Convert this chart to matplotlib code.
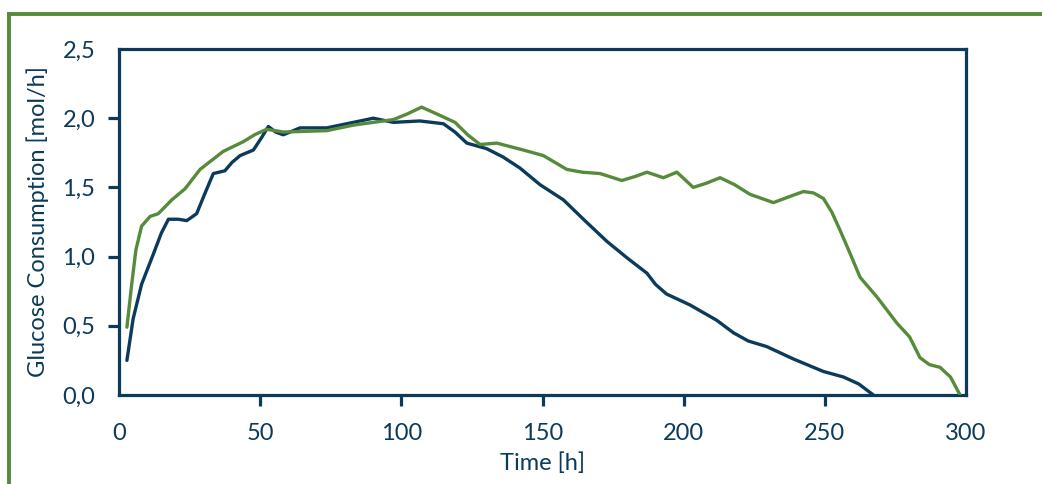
import numpy as np
import matplotlib
matplotlib.use("Agg")
import matplotlib.pyplot as plt
from matplotlib.lines import Line2D
from matplotlib.ticker import FuncFormatter

navy = "#0b3a5a"
green = "#558b3a"

# navy series
t_navy = [2.8, 5, 8, 12.2, 15, 17.5, 21, 24, 27.5, 30.5, 33.4, 37.5, 40, 42.9, 47.6, 50.5, 52.9, 55.5, 58.2,
          64.1, 73.6, 80.7, 90.1, 97.2, 106.6, 114.9, 119, 123.2, 130.2, 136, 142, 149.1, 157.4, 165,
          172.8, 180, 187, 190, 193.9, 202.3, 211.7, 217.6, 222.9, 229.4, 238.9, 249.5, 256.6, 262, 267.2]
y_navy = [0.25, 0.55, 0.80, 1.02, 1.17, 1.27, 1.27, 1.26, 1.31, 1.46, 1.60, 1.62, 1.68, 1.73, 1.77, 1.86,
          1.94, 1.90, 1.88, 1.93, 1.93, 1.96, 2.00, 1.97, 1.98, 1.96, 1.90, 1.82, 1.78, 1.72, 1.64,
          1.52, 1.41, 1.26, 1.11, 0.99, 0.88, 0.80, 0.73, 0.65, 0.54, 0.45, 0.39, 0.35, 0.26, 0.17,
          0.13, 0.08, 0.0]

# green series
t_green = [2.8, 4.5, 6, 8, 11, 13.9, 18.7, 23.4, 28.7, 36.9, 44, 48, 52.3, 58.2, 73.6, 83, 97.2, 102,
           107.2, 113.7, 119, 123.5, 127.9, 133.8, 143.2, 150.3, 158.6, 164, 170.4, 178.1, 183, 187,
           192.8, 197.6, 203.4, 208, 212.9, 218, 223.5, 231.8, 237, 242.4, 246, 249.5, 252.5, 255.4,
           259, 262.5, 268.4, 275.5, 280, 283.7, 287, 290.8, 294.5, 297.9]
y_green = [0.49, 0.80, 1.05, 1.22, 1.29, 1.31, 1.41, 1.49, 1.63, 1.76, 1.83, 1.88, 1.92, 1.90, 1.91, 1.95,
           1.99, 2.03, 2.08, 2.02, 1.97, 1.88, 1.81, 1.82, 1.77, 1.73, 1.63, 1.61, 1.60, 1.55, 1.58,
           1.61, 1.57, 1.61, 1.50, 1.53, 1.57, 1.52, 1.45, 1.39, 1.43, 1.47, 1.46, 1.42, 1.32, 1.19,
           1.02, 0.85, 0.71, 0.52, 0.42, 0.27, 0.22, 0.20, 0.13, 0.0]

x_ticks = [0, 50, 100, 150, 200, 250, 300]
y_ticks = [0.0, 0.5, 1.0, 1.5, 2.0, 2.5]

plt.rcParams['font.family'] = ['Lato', 'DejaVu Sans']

fig = plt.figure(figsize=(10.42, 4.84), dpi=100)
ax = fig.add_axes([119 / 1042, 89 / 484, 847 / 1042, 346 / 484])

ax.plot(t_navy, y_navy, color=navy, lw=2.4, solid_capstyle='round', solid_joinstyle='round', zorder=3)
ax.plot(t_green, y_green, color=green, lw=2.4, solid_capstyle='round', solid_joinstyle='round', zorder=4)

ax.set_xlim(0, 300)
ax.set_ylim(0, 2.5)
ax.set_xticks(x_ticks)
ax.set_yticks(y_ticks)
ax.yaxis.set_major_formatter(FuncFormatter(lambda v, p: f"{v:.1f}".replace('.', ',')))

for s in ax.spines.values():
    s.set_color(navy)
    s.set_linewidth(2.3)
ax.tick_params(colors=navy, labelsize=17, width=2.3, length=8, direction='out')
ax.tick_params(axis='x', pad=12)
ax.tick_params(axis='y', pad=9)
for tk in [ax.xaxis.get_major_ticks()[0], ax.xaxis.get_major_ticks()[-1],
           ax.yaxis.get_major_ticks()[0], ax.yaxis.get_major_ticks()[-1]]:
    tk.tick1line.set_visible(False)

ax.set_xlabel("Time [h]", color=navy, fontsize=17, labelpad=6)
ax.set_ylabel("Glucose Consumption [mol/h]", color=navy, fontsize=17, labelpad=10)

# decorative green frame
fig.add_artist(Line2D([9 / 1042, 1.0], [1 - 14 / 484, 1 - 14 / 484], color=green, lw=2.8,
                      transform=fig.transFigure))
fig.add_artist(Line2D([9 / 1042, 9 / 1042], [0, 1 - 14 / 484], color=green, lw=2.8,
                      transform=fig.transFigure))

fig.savefig("out.png", dpi=100)
